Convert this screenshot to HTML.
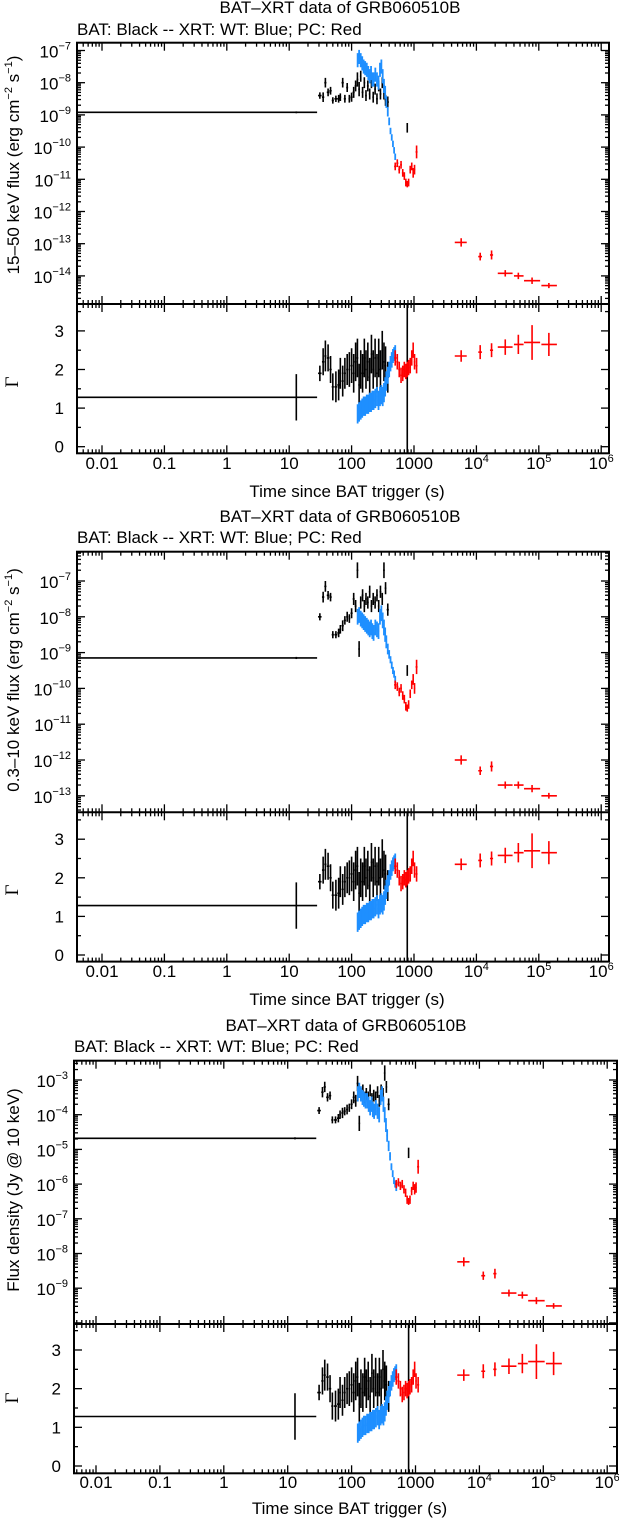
<!DOCTYPE html>
<html><head><meta charset="utf-8"><style>
html,body{margin:0;padding:0;background:#fff}
svg{display:block}
text{font-family:"Liberation Sans",sans-serif;fill:#000}
</style></head><body>
<svg id="chart" width="619" height="1519" viewBox="0 0 619 1519" xmlns="http://www.w3.org/2000/svg"></svg>
<script>
// ---- data (time in s, flux as log10) ----
const bat_t=[13,31,35,38,42,46,50,56,62,66,72,78,85,92,100,108,116,124,132,140,150,160,170,182,195,208,222,238,255,272,290,310,330,350,380,780];
const bat_tm=[12.999,2,1.5,1.5,2,2,2,3,3,2,3,3,3,3,4,4,4,4,4,4,5,5,5,6,6,6,7,7,8,8,9,9,10,10,15,3];
const bat_tp=[15,2,1.5,1.5,2,2,2,3,3,2,3,3,3,3,4,4,4,4,4,4,5,5,5,6,6,6,7,7,8,8,9,9,10,10,15,3];
const bat_f1=[-8.92,-8.40,-8.45,-8.0,-8.3,-8.25,-8.55,-8.5,-8.5,-8.45,-8.0,-8.5,-8.15,-8.5,-8.45,-8.3,-8.1,-7.9,-8.2,-7.8,-8.3,-8.0,-8.4,-8.1,-8.35,-8.0,-8.45,-8.2,-8.5,-8.1,-8.35,-8.0,-8.3,-8.55,-8.6,-9.4];
const bat_f2=[-9.15,-8.0,-7.45,-7.15,-7.4,-7.45,-8.5,-8.5,-8.45,-8.35,-8.25,-8.1,-8.0,-8.05,-7.9,-7.5,-7.7,-6.7,-8.9,-7.6,-7.4,-7.7,-7.5,-7.6,-7.3,-7.7,-7.5,-7.6,-7.4,-7.7,-7.3,-7.5,-6.7,-7.2,-7.8,-9.5];
const bat_f3=[-4.68,-3.88,-3.35,-3.2,-3.5,-3.45,-4.15,-4.15,-4.1,-4.0,-3.95,-3.9,-3.85,-3.8,-3.7,-3.5,-3.6,-3.1,-4.25,-3.4,-3.3,-3.5,-3.4,-3.5,-3.3,-3.55,-3.45,-3.5,-3.35,-3.6,-3.3,-3.4,-2.8,-3.2,-3.7,-5.1];
const bat_fe=[0.03,0.1,0.15,0.15,0.12,0.12,0.1,0.1,0.12,0.12,0.15,0.12,0.14,0.12,0.14,0.17,0.17,0.22,0.22,0.17,0.17,0.17,0.17,0.17,0.17,0.17,0.17,0.17,0.17,0.17,0.17,0.17,0.22,0.17,0.17,0.15];
const bat_g=[1.28,1.9,2.2,2.35,2.3,2.0,1.55,1.55,1.6,1.9,1.7,1.9,2.0,2.0,2.1,1.9,2.2,2.3,1.6,2.0,1.9,2.3,2.0,2.2,1.8,2.4,2.0,2.3,1.9,2.3,2.0,2.5,2.2,2.1,1.8,1.3];
const bat_ge=[0.6,0.2,0.35,0.4,0.35,0.35,0.35,0.4,0.4,0.4,0.4,0.4,0.4,0.45,0.45,0.5,0.5,0.5,0.55,0.5,0.5,0.5,0.5,0.5,0.5,0.5,0.5,0.5,0.5,0.5,0.5,0.5,0.5,0.5,0.4,2.6];

const wt_t=[125,132,140,148,156,165,175,185,195,205,215,225,240,255,270,285,300,315,330,345,360,380,400,420,440,460,480,500];
const wt_dt=[3,4,4,4,4,5,5,5,5,5,5,7,7,7,7,7,7,7,7,8,10,10,10,10,10,10,10,10];
const wt_f1=[-7.3,-7.2,-7.3,-7.4,-7.5,-7.55,-7.6,-7.7,-7.8,-7.7,-7.9,-7.9,-7.75,-7.9,-8.0,-7.6,-7.5,-7.8,-8.1,-8.3,-8.6,-8.9,-9.2,-9.5,-9.7,-9.9,-10.1,-10.3];
const wt_f2=[-8.0,-7.95,-8.05,-8.1,-8.15,-8.2,-8.25,-8.3,-8.35,-8.3,-8.4,-8.45,-8.3,-8.35,-8.4,-8.0,-7.9,-8.1,-8.3,-8.5,-8.7,-8.9,-9.05,-9.2,-9.35,-9.5,-9.6,-9.75];
const wt_f3=[-3.4,-3.3,-3.4,-3.5,-3.55,-3.6,-3.6,-3.7,-3.8,-3.7,-3.85,-3.9,-3.8,-3.9,-4.0,-3.5,-3.4,-3.7,-4.0,-4.3,-4.6,-4.9,-5.2,-5.5,-5.7,-5.9,-6.0,-6.1];
const wt_fe=[0.22,0.22,0.22,0.22,0.22,0.22,0.22,0.22,0.22,0.22,0.22,0.22,0.22,0.22,0.22,0.22,0.22,0.22,0.22,0.2,0.18,0.15,0.12,0.1,0.1,0.1,0.1,0.1];
const wt_g=[0.85,0.9,0.95,1.0,1.05,1.05,1.1,1.1,1.15,1.15,1.2,1.2,1.25,1.3,1.2,1.3,1.35,1.3,1.4,1.55,1.7,1.85,2.0,2.15,2.25,2.35,2.4,2.45];
const wt_ge=[0.25,0.25,0.25,0.25,0.25,0.25,0.25,0.25,0.25,0.25,0.25,0.25,0.25,0.25,0.25,0.25,0.25,0.25,0.25,0.25,0.25,0.22,0.2,0.2,0.2,0.18,0.18,0.18];

const pc_t=[500,540,580,620,660,700,740,780,820,870,920,970,1020,1100];
const pc_dt=[20,20,20,20,20,20,20,20,20,25,25,25,25,40];
const pc_f1=[-10.6,-10.5,-10.7,-10.55,-10.8,-10.9,-11.1,-11.15,-11.1,-10.7,-10.6,-10.8,-10.7,-10.15];
const pc_f2=[-9.9,-9.95,-10.1,-10.0,-10.2,-10.3,-10.5,-10.55,-10.45,-10.15,-9.9,-9.75,-10.0,-9.4];
const pc_f3=[-6.0,-5.95,-6.05,-6.0,-6.15,-6.25,-6.45,-6.5,-6.45,-6.2,-6.05,-6.15,-6.1,-5.5];
const pc_fe=[0.12,0.12,0.12,0.12,0.12,0.12,0.12,0.1,0.12,0.12,0.12,0.15,0.15,0.2];
const pc_g=[2.3,2.2,2.0,1.85,1.9,2.0,1.95,2.0,2.05,2.1,2.3,2.5,2.2,2.1];
const pc_ge=[0.2,0.2,0.2,0.2,0.2,0.2,0.2,0.2,0.2,0.2,0.2,0.2,0.2,0.2];

const late_t=[5700,11500,17500,29000,47000,78000,145000];
const late_tm=[1200,800,1000,7000,7000,20000,35000];
const late_tp=[1300,800,1000,9000,10000,27000,50000];
const late_f1=[-12.96,-13.4,-13.35,-13.92,-14.0,-14.15,-14.3];
const late_f2=[-12.0,-12.3,-12.18,-12.7,-12.7,-12.8,-13.0];
const late_f3=[-8.24,-8.64,-8.58,-9.14,-9.2,-9.36,-9.51];
const late_fe=[0.13,0.12,0.14,0.1,0.1,0.1,0.08];
const late_g=[2.35,2.45,2.5,2.58,2.65,2.7,2.65];
const late_ge=[0.15,0.18,0.18,0.2,0.25,0.45,0.3];

const xtick_exp=[-2,-1,0,1,2,3,4,5,6];
const xtick_lab=["0.01","0.1","1","10","100","1000","10^4","10^5","10^6"];
const gtick_val=[0,1,2,3];
const p1_exp=[-7,-8,-9,-10,-11,-12,-13,-14];
const p2_exp=[-7,-8,-9,-10,-11,-12,-13];
const p3_exp=[-3,-4,-5,-6,-7,-8,-9];

// ---- layout ----
const NS="http://www.w3.org/2000/svg";
const svg=document.getElementById('chart');
function el(tag,attrs,parent){const e=document.createElementNS(NS,tag);for(const k in attrs)e.setAttribute(k,attrs[k]);(parent||svg).appendChild(e);return e;}

const panels=[
 {id:'p1',x0:77,x1:609,xa:102,xd:62.4,ftop:42.7,fdiv:304,gbot:453.3,fy0:50.5,fe0:-7,fd:32.2,g0:446.7,gu:38.6,exps:p1_exp,
  f:[bat_f1,wt_f1,pc_f1,late_f1],tb:13,sb:35,xl:497,tl:469,tcx:340,ylab:'15–50 keV flux (erg cm|−2| s|−1|)',ylc:165,glc:382},
 {id:'p2',x0:77,x1:609,xa:102,xd:62.4,ftop:551.7,fdiv:812.3,gbot:961.6,fy0:581,fe0:-7,fd:35.8,g0:955,gu:38.6,exps:p2_exp,
  f:[bat_f2,wt_f2,pc_f2,late_f2],tb:522,sb:543,xl:1005,tl:977,tcx:340,ylab:'0.3–10 keV flux (erg cm|−2| s|−1|)',ylc:680,glc:890},
 {id:'p3',x0:74,x1:617,xa:96,xd:63.9,ftop:1060.7,fdiv:1324,gbot:1473.3,fy0:1080,fe0:-3,fd:34.7,g0:1466,gu:38.67,exps:p3_exp,
  f:[bat_f3,wt_f3,pc_f3,late_f3],tb:1031,sb:1052,xl:1514,tl:1488,tcx:346,ylab:'Flux density (Jy @ 10 keV)',ylc:1190,glc:1398}
];

panels.forEach((P,pi)=>{
  const X=t=>P.xa+P.xd*(Math.log10(t)+2);
  const YF=l=>P.fy0+P.fd*(P.fe0-l);
  const YG=g=>P.g0-P.gu*g;
  const g=el('g',{});
  
  

  const t1=el('text',{x:P.tcx,y:P.tb,'text-anchor':'middle','font-size':17},g);
  t1.textContent='BAT–XRT data of GRB060510B';
  
  
  const t2=el('text',{x:P.x0,y:P.sb,'font-size':17},g);
  t2.textContent='BAT: Black -- XRT: WT: Blue; PC: Red';
  
  

  const defs=el('defs',{},g);
  const cf=el('clipPath',{id:P.id+'cf'},defs); el('rect',{x:P.x0,y:P.ftop,width:P.x1-P.x0,height:P.fdiv-P.ftop},cf);
  const cg=el('clipPath',{id:P.id+'cg'},defs); el('rect',{x:P.x0,y:P.fdiv,width:P.x1-P.x0,height:P.gbot-P.fdiv},cg);

  const tk=el('g',{stroke:'#000','stroke-width':1.3},g);
  
  
  for(let e=-3;e<=6;e++){for(let m=1;m<=9;m++){
    const x=X(m*Math.pow(10,e)); if(x<P.x0+1||x>P.x1-1)continue;
    const L=m===1?8:4;
    el('line',{x1:x,x2:x,y1:P.ftop,y2:P.ftop+L},tk);
    el('line',{x1:x,x2:x,y1:P.fdiv-L,y2:P.fdiv+L},tk);
    el('line',{x1:x,x2:x,y1:P.gbot,y2:P.gbot-L},tk);
  }}
  for(let e=P.fe0+1;e>=P.exps[P.exps.length-1]-2;e--){for(let m=1;m<=9;m++){
    const y=YF(e+Math.log10(m)); if(y<P.ftop+1||y>P.fdiv-1)continue;
    const L=m===1?8:4;
    el('line',{x1:P.x0,x2:P.x0+L,y1:y,y2:y},tk);
    el('line',{x1:P.x1,x2:P.x1-L,y1:y,y2:y},tk);
  }}
  for(let v=-0.5;v<=3.5;v+=0.5){
    const y=YG(v); if(y<P.fdiv+1||y>P.gbot-1)continue;
    const L=Number.isInteger(v)?8:4;
    el('line',{x1:P.x0,x2:P.x0+L,y1:y,y2:y},tk);
    el('line',{x1:P.x1,x2:P.x1-L,y1:y,y2:y},tk);
  }

  xtick_exp.forEach((e,i)=>{
    const x=X(Math.pow(10,e)); const lab=xtick_lab[i];
    const tx=el('text',{x:x,y:P.tl,'text-anchor':'middle','font-size':17},g);
    if(lab.indexOf('^')>=0){const p=lab.split('^');tx.textContent=p[0];const s=el('tspan',{'font-size':11,dy:-7},tx);s.textContent=p[1];}
    else tx.textContent=lab;
    
    
  });
  P.exps.forEach(e=>{
    const y=YF(e);
    const tx=el('text',{x:P.x0-6,y:y+7,'text-anchor':'end','font-size':17},g);
    tx.textContent='10';
    const s=el('tspan',{'font-size':11,dy:-8},tx); s.textContent='−'+Math.abs(e);
    
    
  });
  gtick_val.forEach(v=>{
    const tx=el('text',{x:P.x0-13,y:YG(v)+6,'text-anchor':'end','font-size':17},g);
    tx.textContent=String(v);
    
    
  });

  const xl=el('text',{x:(P.x0+P.x1)/2+4,y:P.xl,'text-anchor':'middle','font-size':17},g);
  xl.textContent='Time since BAT trigger (s)';
  
  
  const yl=el('text',{x:0,y:0,'text-anchor':'middle','font-size':17,transform:`translate(19,${P.ylc}) rotate(-90)`},g);
  P.ylab.split('|').forEach((part,i)=>{const s=el('tspan',i%2?{'font-size':11,dy:-7}:{dy:i?7:0},yl);s.textContent=part;});
  
  
  const gl=el('text',{x:0,y:0,'text-anchor':'middle','font-size':19,style:'font-family:"Liberation Serif",serif',transform:`translate(18,${P.glc}) rotate(-90)`},g);
  gl.textContent='Γ';
  
  

  const series=[
    {name:'bat',col:'#000',t:bat_t,tm:bat_tm,tp:bat_tp,f:P.f[0],fe:bat_fe,g:bat_g,ge:bat_ge,w:1.6},
    {name:'xrt-wt',col:'#1e8fff',t:wt_t,tm:wt_dt,tp:wt_dt,f:P.f[1],fe:wt_fe,g:wt_g,ge:wt_ge,w:1.8},
    {name:'xrt-pc-early',col:'#ff0000',t:pc_t,tm:pc_dt,tp:pc_dt,f:P.f[2],fe:pc_fe,g:pc_g,ge:pc_ge,w:1.6},
    {name:'xrt-pc-late',col:'#ff0000',t:late_t,tm:late_tm,tp:late_tp,f:P.f[3],fe:late_fe,g:late_g,ge:late_ge,w:1.6}
  ];
  series.forEach(S=>{
    const gf=el('g',{stroke:S.col,'stroke-width':S.w,'clip-path':`url(#${P.id}cf)`},g);
    
    
    const gg=el('g',{stroke:S.col,'stroke-width':S.w,'clip-path':`url(#${P.id}cg)`},g);
    
    
    S.t.forEach((t,i)=>{
      const xa=X(Math.max(t-S.tm[i],1e-4)), xb=X(t+S.tp[i]), x=X(t);
      const y=YF(S.f[i]);
      const h=el('line',{x1:xa,x2:xb,y1:y,y2:y},gf);
      
      
      el('line',{x1:x,x2:x,y1:YF(S.f[i]-S.fe[i]),y2:YF(S.f[i]+S.fe[i])},gf);
      const yg=YG(S.g[i]);
      const hg=el('line',{x1:xa,x2:xb,y1:yg,y2:yg},gg);
      
      
      el('line',{x1:x,x2:x,y1:YG(S.g[i]-S.ge[i]),y2:YG(S.g[i]+S.ge[i])},gg);
    });
  });

  const fr=el('g',{fill:'none',stroke:'#000','stroke-width':2},g);
  
  
  el('rect',{x:P.x0,y:P.ftop,width:P.x1-P.x0,height:P.gbot-P.ftop},fr);
  el('line',{x1:P.x0,x2:P.x1,y1:P.fdiv,y2:P.fdiv},fr);
});
</script>
</body></html>
